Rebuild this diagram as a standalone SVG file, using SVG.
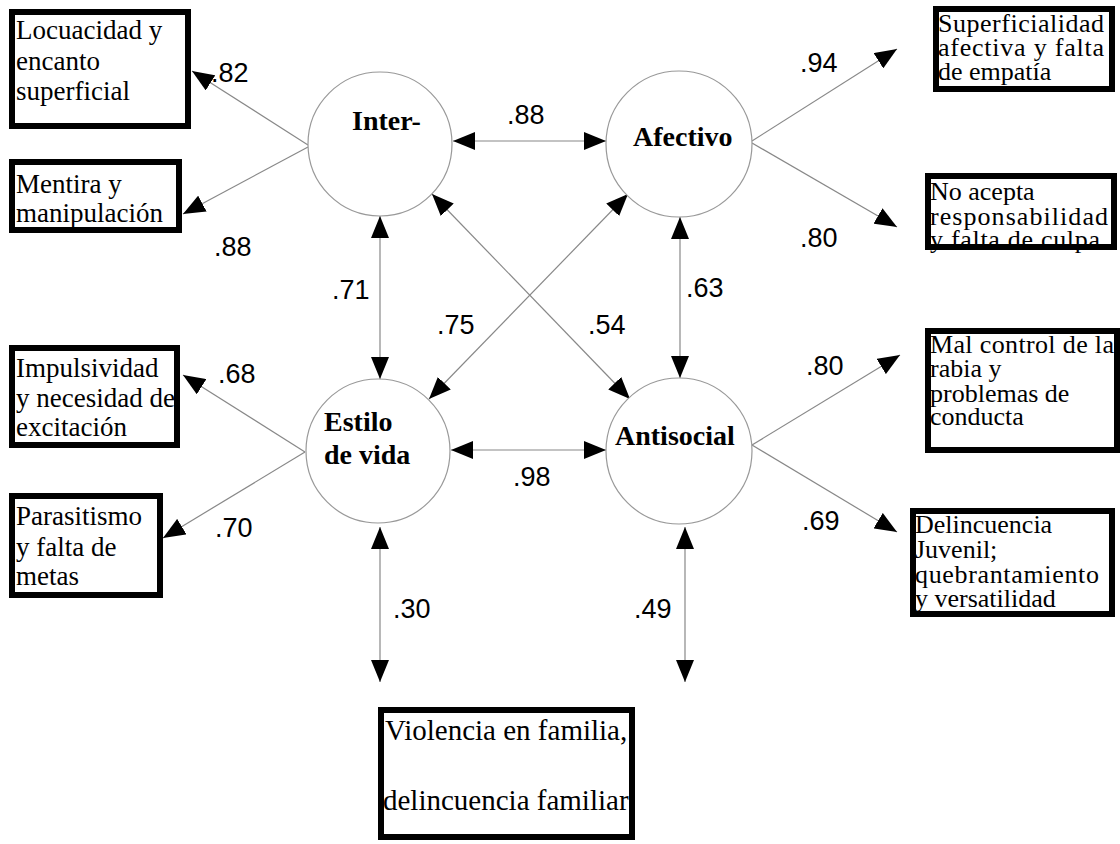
<svg xmlns="http://www.w3.org/2000/svg" width="1120" height="844" viewBox="0 0 1120 844">
<style>
.box{fill:#fff;stroke:#000;stroke-width:6}
.lat{fill:#fff;stroke:#999;stroke-width:1.2}
.t{font-family:"Liberation Serif","Times New Roman",serif;font-size:27px;fill:#000}
.tr{font-family:"Liberation Serif","Times New Roman",serif;font-size:26px;fill:#000}
.tb{font-family:"Liberation Serif","Times New Roman",serif;font-size:28px;font-weight:bold;fill:#000}
.n{font-family:"Liberation Sans",Arial,sans-serif;font-size:27px;fill:#000}
.c{stroke:#888;stroke-width:1.2;fill:none}
.one{marker-end:url(#ah)}
.two{marker-start:url(#ah);marker-end:url(#ah)}
</style>
<defs>
<marker id="ah" markerUnits="userSpaceOnUse" markerWidth="22" markerHeight="18" viewBox="0 0 22 18" refX="22" refY="9" orient="auto-start-reverse">
<path d="M0,0 L22,9 L0,18 Z" fill="#000"/>
</marker>
</defs>
<rect width="1120" height="844" fill="#fff"/>
<g id="connectors">
<line class="c two" x1="453" y1="141" x2="606" y2="141"/>
<line class="c two" x1="451" y1="450" x2="606" y2="450"/>
<line class="c two" x1="380" y1="216" x2="380" y2="379"/>
<line class="c two" x1="680" y1="217" x2="680" y2="378"/>
<line class="c two" x1="432" y1="194" x2="630" y2="399"/>
<line class="c two" x1="628" y1="194" x2="429" y2="399"/>
<line class="c two" x1="380" y1="527" x2="380" y2="682"/>
<line class="c two" x1="685" y1="527" x2="685" y2="682"/>
<line class="c one" x1="308" y1="145" x2="192" y2="71"/>
<line class="c one" x1="308" y1="147" x2="183" y2="214"/>
<line class="c one" x1="752" y1="141" x2="897" y2="49"/>
<line class="c one" x1="752" y1="143" x2="897" y2="227"/>
<line class="c one" x1="305" y1="452" x2="183" y2="375"/>
<line class="c one" x1="305" y1="452" x2="163" y2="538"/>
<line class="c one" x1="752" y1="445" x2="900" y2="355"/>
<line class="c one" x1="752" y1="445" x2="897" y2="532"/>
<text class="n" x="211" y="82">.82</text>
<text class="n" x="214" y="256">.88</text>
<text class="n" x="507" y="124">.88</text>
<text class="n" x="800" y="72">.94</text>
<text class="n" x="800" y="247">.80</text>
<text class="n" x="332" y="299">.71</text>
<text class="n" x="437" y="334">.75</text>
<text class="n" x="588" y="334">.54</text>
<text class="n" x="686" y="297">.63</text>
<text class="n" x="218" y="383">.68</text>
<text class="n" x="215" y="537">.70</text>
<text class="n" x="806" y="375">.80</text>
<text class="n" x="802" y="530">.69</text>
<text class="n" x="513" y="486">.98</text>
<text class="n" x="393" y="618">.30</text>
<text class="n" x="634" y="618">.49</text>
</g>
<g id="inter">
<circle class="lat" cx="380" cy="144" r="72"/>
<text class="tb" x="352" y="130">Inter-</text>
</g>
<g id="afectivo">
<circle class="lat" cx="679" cy="144" r="73"/>
<text class="tb" x="633" y="146">Afectivo</text>
</g>
<g id="estilo">
<circle class="lat" cx="378" cy="451" r="72"/>
<text class="tb" x="324" y="431">Estilo</text>
<text class="tb" x="324" y="464">de vida</text>
</g>
<g id="antisocial">
<circle class="lat" cx="679" cy="451" r="73"/>
<text class="tb" x="615" y="445">Antisocial</text>
</g>
<g id="locuacidad">
<rect class="box" x="12" y="12" width="176" height="114"/>
<text class="t" x="16" y="39">Locuacidad y</text>
<text class="t" x="16" y="70">encanto</text>
<text class="t" x="16" y="100">superficial</text>
</g>
<g id="mentira">
<rect class="box" x="12" y="162" width="167" height="68"/>
<text class="t" x="16" y="193">Mentira y</text>
<text class="t" x="16" y="222">manipulación</text>
</g>
<g id="impulsividad">
<rect class="box" x="12" y="348" width="165" height="97"/>
<text class="t" x="16" y="377">Impulsividad</text>
<text class="t" x="16" y="407">y necesidad de</text>
<text class="t" x="16" y="436">excitación</text>
</g>
<g id="parasitismo">
<rect class="box" x="12" y="496" width="148" height="99"/>
<text class="t" x="16" y="525">Parasitismo</text>
<text class="t" x="16" y="556">y falta de</text>
<text class="t" x="16" y="585">metas</text>
</g>
<g id="superficialidad">
<rect class="box" x="936" y="9" width="176" height="80"/>
<text class="tr" x="938" y="32" textLength="166">Superficialidad</text>
<text class="tr" x="938" y="56" textLength="166">afectiva  y falta</text>
<text class="tr" x="938" y="80">de empatía</text>
</g>
<g id="noacepta">
<rect class="box" x="928" y="176" width="186" height="71"/>
<text class="tr" x="930" y="200">No acepta</text>
<text class="tr" x="930" y="225" textLength="178">responsabilidad</text>
<text class="tr" x="930" y="248" textLength="170">y falta de culpa</text>
</g>
<g id="malcontrol">
<rect class="box" x="928" y="331" width="189" height="119"/>
<text class="tr" x="930" y="353" textLength="184">Mal control de la</text>
<text class="tr" x="930" y="377">rabia y</text>
<text class="tr" x="930" y="402">problemas de</text>
<text class="tr" x="930" y="425">conducta</text>
</g>
<g id="delincuencia">
<rect class="box" x="913" y="511" width="199" height="103"/>
<text class="tr" x="915" y="533">Delincuencia</text>
<text class="tr" x="915" y="558">Juvenil;</text>
<text class="tr" x="915" y="583" textLength="184">quebrantamiento</text>
<text class="tr" x="915" y="607">y versatilidad</text>
</g>
<g id="violencia">
<rect class="box" x="381" y="710" width="251" height="127"/>
<text class="t" x="385" y="740" style="font-size:29px">Violencia en familia,</text>
<text class="t" x="383" y="810" style="font-size:29px">delincuencia familiar</text>
</g>
</svg>
